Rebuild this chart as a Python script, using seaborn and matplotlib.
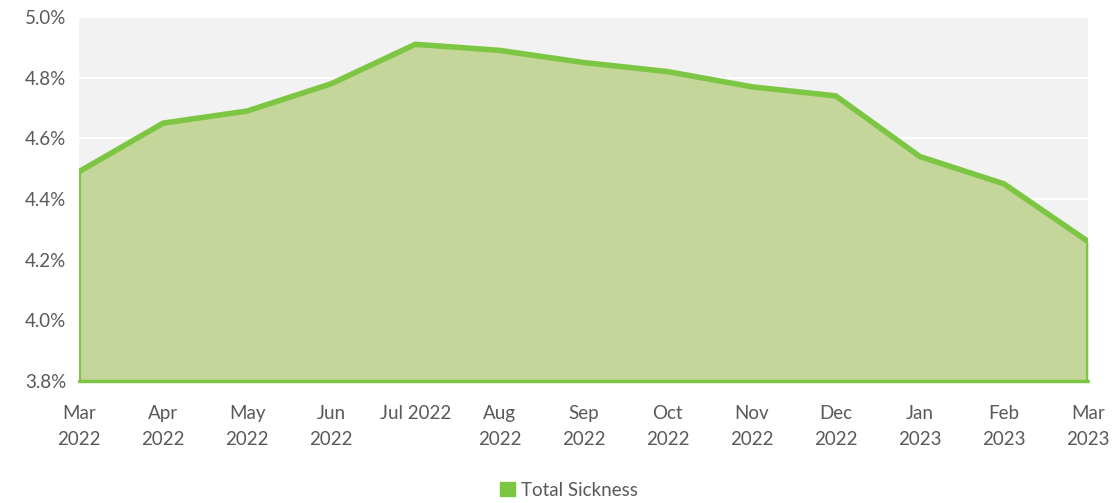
import matplotlib
matplotlib.use("Agg")
import matplotlib.pyplot as plt
import seaborn as sns
import pandas as pd
from matplotlib.patches import Patch

months = ["Mar\n2022", "Apr\n2022", "May\n2022", "Jun\n2022", "Jul 2022", "Aug\n2022",
          "Sep\n2022", "Oct\n2022", "Nov\n2022", "Dec\n2022", "Jan\n2023", "Feb\n2023", "Mar\n2023"]
sickness = [4.49, 4.65, 4.69, 4.78, 4.91, 4.89, 4.85, 4.82, 4.77, 4.74, 4.54, 4.45, 4.26]
yticks = [3.8, 4.0, 4.2, 4.4, 4.6, 4.8, 5.0]

sns.set_theme(style="darkgrid")
plt.rcParams['font.family'] = ['Lato', 'DejaVu Sans']

df = pd.DataFrame({"x": range(len(months)), "y": sickness})

fig = plt.figure(figsize=(11.16, 5.03), dpi=100)
ax = fig.add_axes([79/1116, 1 - 381/503, (1088-79)/1116, (381-17)/503])
ax.set_facecolor("#f2f2f2")
ax.grid(True, axis="y", color="white", linewidth=1.5)
ax.grid(False, axis="x")

line_c = "#7cc644"
fill_c = "#c5d69a"
ax.fill_between(df["x"], yticks[0], df["y"], color=fill_c, zorder=2, linewidth=0)
sns.lineplot(data=df, x="x", y="y", ax=ax, color=line_c, linewidth=4, zorder=3)
ax.plot([0, 0], [yticks[0], sickness[0]], color=line_c, linewidth=3, zorder=3)
ax.plot([len(months)-1, len(months)-1], [yticks[0], sickness[-1]], color=line_c, linewidth=3, zorder=3)
ax.plot([0, len(months)-1], [yticks[0], yticks[0]], color=line_c, linewidth=2.5, zorder=3, clip_on=False)

ax.set_xlim(0, len(months)-1)
ax.set_ylim(yticks[0], yticks[-1])
ax.set_yticks(yticks)
ax.set_yticklabels([f"{v:.1f}%" for v in yticks])
ax.set_xticks(range(len(months)))
ax.set_xticklabels(months, va="top", linespacing=1.7)
ax.set_xlabel("")
ax.set_ylabel("")
ax.tick_params(axis="both", colors="#595959", labelsize=13.5, length=0)
ax.tick_params(axis="x", pad=17)
ax.tick_params(axis="y", pad=9)
for s in ax.spines.values():
    s.set_visible(False)

fig.legend(handles=[Patch(facecolor=line_c, edgecolor=line_c, label="Total Sickness")],
           loc="center", bbox_to_anchor=(0.51, 1 - 490/503), frameon=False,
           fontsize=13.5, labelcolor="#595959", handlelength=0.8, handleheight=0.8,
           handletextpad=0.3)

fig.savefig("out.png", dpi=100, facecolor="white")
